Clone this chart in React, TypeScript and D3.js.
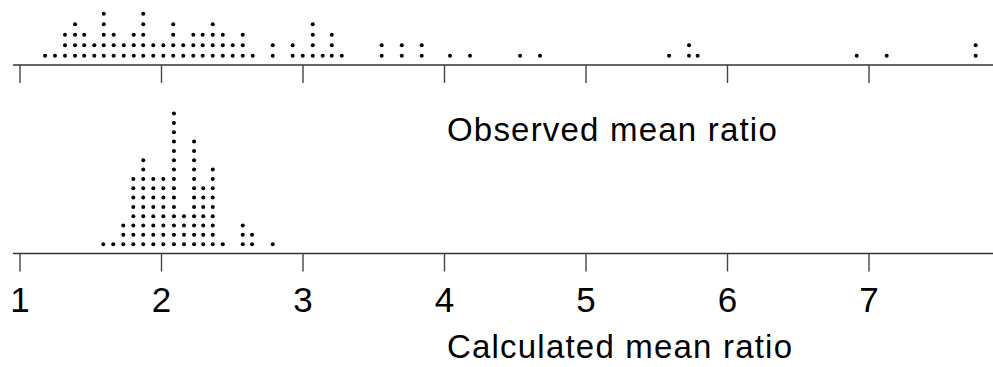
import React from "react";
import * as d3 from "d3";

// Observed mean ratio: bin centres and number of stacked dots per bin
const observedBins = [
  1.177, 1.247, 1.318, 1.389, 1.454, 1.525, 1.592, 1.662, 1.733, 1.804,
  1.871, 1.942, 2.013, 2.083, 2.154, 2.225, 2.291, 2.362, 2.433, 2.503,
  2.574, 2.645, 2.786, 2.927, 2.998, 3.069, 3.139, 3.203, 3.274, 3.556,
  3.698, 3.839, 4.039, 4.18, 4.534, 4.675, 5.587, 5.728, 5.789, 6.913,
  7.125, 7.754,
];
const observedCounts = [
  1, 1, 3, 4, 3, 2, 5, 3, 2, 3,
  5, 2, 2, 4, 2, 3, 3, 4, 3, 2,
  3, 1, 2, 2, 1, 4, 1, 3, 1, 2,
  2, 2, 1, 1, 1, 1, 1, 2, 1, 1,
  1, 2,
];

// Calculated mean ratio: bin centres and counts
const calculatedBins = [
  1.589, 1.659, 1.73, 1.801, 1.871, 1.942, 2.013, 2.088, 2.159, 2.23,
  2.295, 2.362, 2.433, 2.574, 2.64, 2.786,
];
const calculatedCounts = [1, 1, 3, 8, 10, 8, 8, 15, 4, 12, 7, 9, 1, 3, 2, 1];

const tickValues = [1, 2, 3, 4, 5, 6, 7];
const observedLabel = "Observed mean ratio";
const calculatedLabel = "Calculated mean ratio";

const W = 993;
const H = 367;

function stack(bins: number[], counts: number[]) {
  const pts: { v: number; k: number }[] = [];
  bins.forEach((v, i) => {
    for (let k = 0; k < counts[i]; k++) pts.push({ v, k });
  });
  return pts;
}

export default function App() {
  const x = d3.scaleLinear().domain([1, 7]).range([20, 869]);

  const topAxisY = 65;
  const botAxisY = 253.5;
  const topDy = 10.5;
  const botDy = 9.33;

  const topPts = stack(observedBins, observedCounts);
  const botPts = stack(calculatedBins, calculatedCounts);

  const axis = (y: number) => (
    <g>
      <line x1={13} x2={W} y1={y} y2={y} stroke="#333" strokeWidth={1.4} />
      {tickValues.map((t) => (
        <line
          key={t}
          x1={x(t)}
          x2={x(t)}
          y1={y}
          y2={y + 18}
          stroke="#444"
          strokeWidth={1.4}
        />
      ))}
    </g>
  );

  return (
    <svg
      width={W}
      height={H}
      style={{ position: "absolute", left: 0, top: 0, background: "#fff" }}
      fontFamily="'Liberation Sans', Arial, sans-serif"
    >
      <rect width={W} height={H} fill="#fff" />
      {axis(topAxisY)}
      {axis(botAxisY)}
      {topPts.map((p, i) => (
        <circle
          key={"t" + i}
          cx={x(p.v)}
          cy={topAxisY - 9.3 - p.k * topDy}
          r={2}
          fill="#000"
        />
      ))}
      {botPts.map((p, i) => (
        <circle
          key={"b" + i}
          cx={x(p.v)}
          cy={botAxisY - 9.3 - p.k * botDy}
          r={2}
          fill="#000"
        />
      ))}
      {tickValues.map((t) => (
        <text
          key={t}
          x={x(t)}
          y={312}
          textAnchor="middle"
          fontSize={35}
          fill="#000"
        >
          {t}
        </text>
      ))}
      <text x={447} y={141} fontSize={33} letterSpacing={1.2} fill="#000">
        {observedLabel}
      </text>
      <text x={447} y={358} fontSize={33} letterSpacing={1.2} fill="#000">
        {calculatedLabel}
      </text>
    </svg>
  );
}
